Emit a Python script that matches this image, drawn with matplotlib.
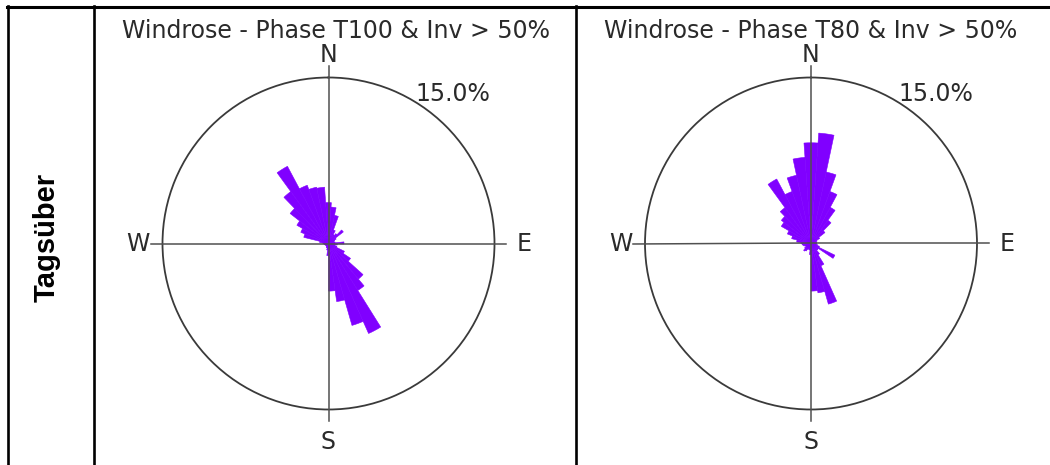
import numpy as np
import matplotlib
matplotlib.use("Agg")
import matplotlib.pyplot as plt
from matplotlib.lines import Line2D

# Sector centres (degrees, clockwise from north) and frequency per sector (%)
directions = np.arange(0, 360, 8)

freq_t100 = [3.7, 3.3, 2.6, 1.3, 0.9, 1.1, 1.7, 0.8, 0.6, 0.5,
             0.6, 1.4, 0.8, 0.6, 0.8, 1.6, 2.4, 4.2, 5.0, 8.9,
             7.7, 5.3, 4.3, 1.1, 0.6, 0.4, 0.4, 0.3, 0.3, 0.3,
             0.3, 0.3, 0.4, 0.4, 0.5, 0.8, 2.3, 2.7, 3.3, 4.4,
             5.8, 7.9, 5.6, 5.2, 5.1]

freq_t80 = [9.1, 10.0, 6.6, 5.0, 3.7, 2.6, 1.6, 0.9, 0.6, 0.5,
            0.5, 0.5, 0.5, 0.6, 0.8, 2.4, 0.8, 0.8, 1.2, 2.2,
            5.7, 4.5, 4.3, 1.0, 0.6, 0.5, 0.6, 0.8, 0.9, 0.7,
            0.5, 0.6, 0.7, 0.8, 0.9, 1.3, 1.8, 2.3, 3.1, 3.4,
            4.0, 6.6, 5.0, 6.3, 7.8]

titles = ["Windrose - Phase T100 & Inv > 50%",
          "Windrose - Phase T80 & Inv > 50%"]
row_label = "Tagsüber"
compass = ["N", "E", "S", "W"]
ring_max = 15.0
ring_label = "15.0%"

W, H = 1050, 465
fig = plt.figure(figsize=(W / 100, H / 100), dpi=100)
fig.patch.set_facecolor("white")

BAR = "#8000ff"
INK = "#2a2a2a"
sector = np.deg2rad(8)


def px_box(cx, cy, r):
    return [(cx - r) / W, (H - cy - r) / H, 2 * r / W, 2 * r / H]


def draw_rose(cx, title_x, values, title):
    ax = fig.add_axes(px_box(cx, 243.5, 166), projection="polar")
    ax.set_theta_zero_location("N")
    ax.set_theta_direction(-1)
    ax.set_ylim(0, ring_max)
    ax.set_xticks([])
    ax.set_yticks([])
    ax.grid(False)
    ax.spines["polar"].set_color("#3a3a3a")
    ax.spines["polar"].set_linewidth(1.3)

    theta = np.deg2rad(directions)
    ax.bar(theta, values, width=sector, color=BAR, edgecolor=BAR,
           linewidth=0.4, align="center", zorder=2)

    # crosshair through the centre, reaching a little beyond the ring
    for ang in (0, 90, 180, 270):
        t = np.deg2rad(ang)
        ax.plot([t, t], [0, ring_max * 1.072], color="#505050", lw=1.1,
                zorder=3, clip_on=False)

    label_r = {"N": 17.0, "E": 17.7, "S": 17.9, "W": 17.2}
    for name, ang in zip(compass, (0, 90, 180, 270)):
        ax.text(np.deg2rad(ang), label_r[name], name, ha="center",
                va="center", fontsize=17, color=INK, clip_on=False)

    ax.text(np.deg2rad(39.8), 17.6, ring_label, ha="center", va="center",
            fontsize=17, color=INK, clip_on=False)

    fig.text(title_x / W, 1 - 31 / H, title, ha="center", va="center",
             fontsize=17, color=INK)


draw_rose(328.5, 336, freq_t100, titles[0])
draw_rose(811, 811, freq_t80, titles[1])

# table rules
def hline(y, x0, x1, lw):
    fig.add_artist(Line2D([x0 / W, x1 / W], [1 - y / H, 1 - y / H],
                          color="black", lw=lw, transform=fig.transFigure))


def vline(x, y0, y1, lw):
    fig.add_artist(Line2D([x / W, x / W], [1 - y0 / H, 1 - y1 / H],
                          color="black", lw=lw, transform=fig.transFigure))


hline(7.3, 6.5, W, 2.2)
for x in (7.7, 94, 575.5):
    vline(x, 6, H, 1.9)

fig.text(47 / W, 1 - 237 / H, row_label, rotation=90, ha="center",
         va="center", fontsize=21, fontweight="bold",
         family=["Liberation Sans", "DejaVu Sans"], color="black")

fig.savefig("out.png", dpi=100, facecolor="white")
